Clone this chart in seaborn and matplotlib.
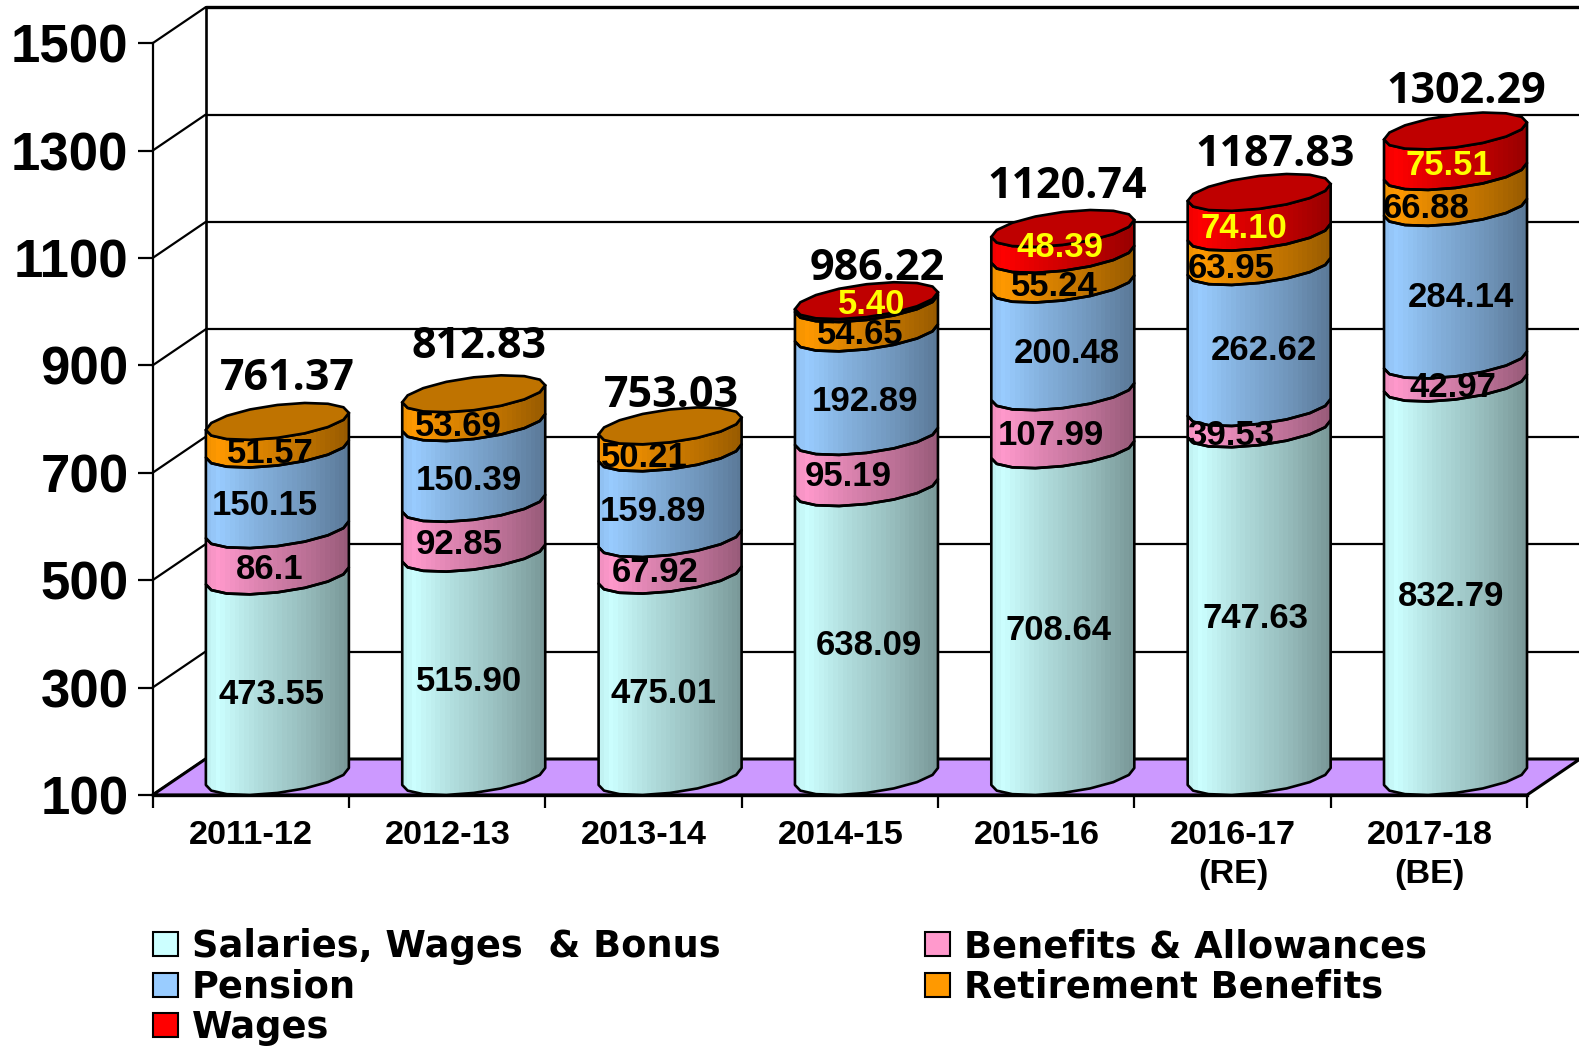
import numpy as np
import seaborn as sns
import matplotlib.pyplot as plt
from matplotlib.patches import Patch, Polygon

years = ['2011-12', '2012-13', '2013-14', '2014-15', '2015-16', '2016-17\n(RE)', '2017-18\n(BE)']
salaries = [473.55, 515.90, 475.01, 638.09, 708.64, 747.63, 832.79]
benefits = [86.1, 92.85, 67.92, 95.19, 107.99, 39.53, 42.97]
pension = [150.15, 150.39, 159.89, 192.89, 200.48, 262.62, 284.14]
retirement = [51.57, 53.69, 50.21, 54.65, 55.24, 63.95, 66.88]
wages = [0, 0, 0, 5.40, 48.39, 74.10, 75.51]
totals = ['761.37', '812.83', '753.03', '986.22', '1120.74', '1187.83', '1302.29']
total_values = [761.37, 812.83, 753.03, 986.22, 1120.74, 1187.83, 1302.29]
y_ticks = [100, 300, 500, 700, 900, 1100, 1300, 1500]

salaries_txt = ['473.55', '515.90', '475.01', '638.09', '708.64', '747.63', '832.79']
benefits_txt = ['86.1', '92.85', '67.92', '95.19', '107.99', '39.53', '42.97']
pension_txt = ['150.15', '150.39', '159.89', '192.89', '200.48', '262.62', '284.14']
retirement_txt = ['51.57', '53.69', '50.21', '54.65', '55.24', '63.95', '66.88']
wages_txt = ['', '', '', '5.40', '48.39', '74.10', '75.51']

series_names = ['Salaries, Wages  & Bonus', 'Benefits & Allowances', 'Pension', 'Retirement Benefits', 'Wages']
series_values = [salaries, benefits, pension, retirement, wages]
series_text = [salaries_txt, benefits_txt, pension_txt, retirement_txt, wages_txt]
series_colors = ['#CCFFFF', '#FF99CC', '#99CCFF', '#FF9900', '#FF0000']

# label nudges in pixels from the bar centre / segment middle
label_nudge = [
    [(-6, 31), (-5, 32), (-7, 31), (2, 35), (-4, 31), (-4, 33), (-4, 32)],
    [(-8, 5), (-14, 6), (-15, 6), (-18, 8), (-12, 7), (-28, 5), (-3, 6)],
    [(-13, 6), (-5, 4), (-17, 6), (-1, 5), (4, 6), (5, 9), (5, 8)],
    [(-7, 4), (-15, 4), (-26, 4), (-6, 6), (-8, 5), (-28, 3), (-29, 3)],
    [(0, 0), (0, 0), (0, 0), (5, 20), (-3, 16), (-15, 6), (-7, 8)],
]
total_nudge = [(10, 66), (5, 71), (1, 54), (11, 56), (4, 65), (16, 61), (11, 63)]

sns.set_theme(style='white')
plt.rcParams['font.family'] = ['Liberation Sans', 'DejaVu Sans']
plt.rcParams['font.weight'] = 'bold'
plt.rcParams['text.color'] = 'black'
plt.rcParams['xtick.labelcolor'] = 'black'
plt.rcParams['ytick.labelcolor'] = 'black'

W, H = 1579, 1046
left, right, base, top = 152.5, 1527, 795, 43.3
fig = plt.figure(figsize=(W / 100, H / 100), dpi=100, facecolor='white')
ax = fig.add_axes([left / W, 1 - base / H, (right - left) / W, (base - top) / H])

# stacked bars from seaborn give the geometry of every cylinder segment
bottoms = np.zeros(len(years))
for vals, col in zip(series_values, series_colors):
    sns.barplot(x=years, y=vals, bottom=bottoms, width=0.728, color=col, saturation=1,
                errorbar=None, ax=ax)
    bottoms = bottoms + np.array(vals)
bars = list(ax.patches)

ax.set_xlim(-0.5, 6.5)
ax.set_ylim(100, 1500)
px_x = 7 / (right - left)
px_y = 1400 / (base - top)
depth_x, depth_y = 53 * px_x, 36 * px_y

# back wall and floor
ax.add_patch(Polygon([(-0.5, 100), (6.5, 100), (6.5 + depth_x, 100 + depth_y), (-0.5 + depth_x, 100 + depth_y)],
                     closed=True, fc='#CC99FF', ec='black', lw=2.2, zorder=1.5, clip_on=False))
for t in y_ticks:
    lw = 2.4 if t == 1500 else 1.6
    if t > 100:
        ax.plot([-0.5 + depth_x, 6.5 + depth_x], [t + depth_y, t + depth_y], color='black', lw=lw, zorder=1, clip_on=False)
    ax.plot([-0.5, -0.5 + depth_x], [t, t + depth_y], color='black', lw=1.6, zorder=1, clip_on=False)
ax.plot([-0.5 + depth_x] * 2, [100 + depth_y, 1500 + depth_y], color='black', lw=1.9, zorder=1, clip_on=False)

# cylinder shape, in pixels, turned to data units
rx, ext, tilt = 71.5, 18.5, 8.5
slope = np.sqrt(ext ** 2 - tilt ** 2)


def ring(xc, v, t):
    xs = xc + rx * np.cos(t) * px_x
    ys = v + (ext + tilt * np.cos(t) + slope * np.sin(t)) * px_y
    return np.column_stack([xs, ys])


front = np.linspace(np.pi, 2 * np.pi, 9)
round_t = np.linspace(0, 2 * np.pi, 17)
pos = np.linspace(0, 1, 30)
shade = np.interp(pos, [0, 0.07, 0.35, 0.7, 1], [0.95, 1, 0.87, 0.74, 0.6])

n_years = len(years)
tops = {}
for k, col in enumerate(series_colors):
    rgb = np.array(plt.matplotlib.colors.to_rgb(col))
    strip = (shade[:, None] * rgb)[None, :, :]
    for i in range(n_years):
        bar = bars[k * n_years + i]
        bar.set_visible(False)
        if bar.get_height() == 0:
            continue
        xc = bar.get_x() + bar.get_width() / 2 + 26.7 * px_x
        v0 = max(bar.get_y(), 100)
        v1 = bar.get_y() + bar.get_height()
        low = ring(xc, v0, front)
        up = ring(xc, v1, front)
        outline = np.vstack([low, up[::-1]])
        clip = Polygon(outline, closed=True, transform=ax.transData)
        im = ax.imshow(strip, extent=[xc - rx * px_x, xc + rx * px_x, v0, v1 + 2 * ext * px_y],
                       aspect='auto', interpolation='nearest', zorder=3, origin='lower')
        im.set_clip_path(clip)
        ax.add_patch(Polygon(outline, closed=True, fc='none', ec='black', lw=1.9, zorder=3.2,
                             joinstyle='round', clip_on=False))
        tops[i] = (xc, v1, rgb)

for xc, v1, rgb in tops.values():
    ax.add_patch(Polygon(ring(xc, v1, round_t), closed=True, fc=rgb * 0.75, ec='black', lw=1.9, zorder=3.4,
                         clip_on=False))

ax.set_xlim(-0.5, 6.5)
ax.set_ylim(100, 1500)

# value labels
for k, (vals, texts) in enumerate(zip(series_values, series_text)):
    for i, txt in enumerate(texts):
        if not txt:
            continue
        bar = bars[k * n_years + i]
        xc = bar.get_x() + bar.get_width() / 2 + 26.7 * px_x
        mid = bar.get_y() + bar.get_height() / 2
        ax.annotate(txt, (xc, mid), xytext=label_nudge[k][i], textcoords='offset pixels',
                    ha='center', va='center_baseline', fontsize=25, fontweight='bold',
                    color='#FFFF00' if k == 4 else 'black', zorder=5)

for i, txt in enumerate(totals):
    xc = bars[i].get_x() + bars[i].get_width() / 2 + 26.7 * px_x
    ax.annotate(txt, (xc, total_values[i]), xytext=total_nudge[i], textcoords='offset pixels',
                ha='center', va='center_baseline', fontsize=31, fontweight='bold', family='Open Sans',
                color='black', zorder=5)

# axes
sns.despine(ax=ax, top=True, right=True)
ax.spines['left'].set_linewidth(1.6)
ax.spines['left'].set_color('black')
ax.spines['bottom'].set_linewidth(2.4)
ax.spines['bottom'].set_color('black')
ax.set_yticks(y_ticks)
ax.set_yticklabels([str(t) for t in y_ticks], fontsize=38, fontweight='bold')
ax.tick_params(axis='y', length=10.8, width=1.6, pad=6.5, color='black', left=True)
ax.set_xticks(np.arange(-0.5, 7), labels=[''] * 8)
ax.set_xticks(np.arange(n_years) + 0.003, labels=years, minor=True, fontsize=24.7, fontweight='bold', linespacing=1.33)
ax.tick_params(axis='x', which='major', length=9, width=1.6, color='black', bottom=True)
ax.tick_params(axis='x', which='minor', length=0, pad=18, bottom=False)
ax.set_xlabel('')
ax.grid(False)
ax.set_facecolor('white')

order = [0, 2, 4, 1, 3]
handles = [Patch(fc=series_colors[j], ec='black', lw=1.5) for j in order]
names = [series_names[j] for j in order]
fig.legend(handles, names, loc='lower left', bbox_to_anchor=(153 / W, 0.0), ncol=2, frameon=False,
           prop={'family': 'DejaVu Sans', 'weight': 'bold', 'size': 26.5}, handlelength=0.68, handleheight=0.62,
           handletextpad=0.38, labelspacing=0.09, columnspacing=5.55, borderpad=0, borderaxespad=0)

plt.savefig('out.png', dpi=100)
